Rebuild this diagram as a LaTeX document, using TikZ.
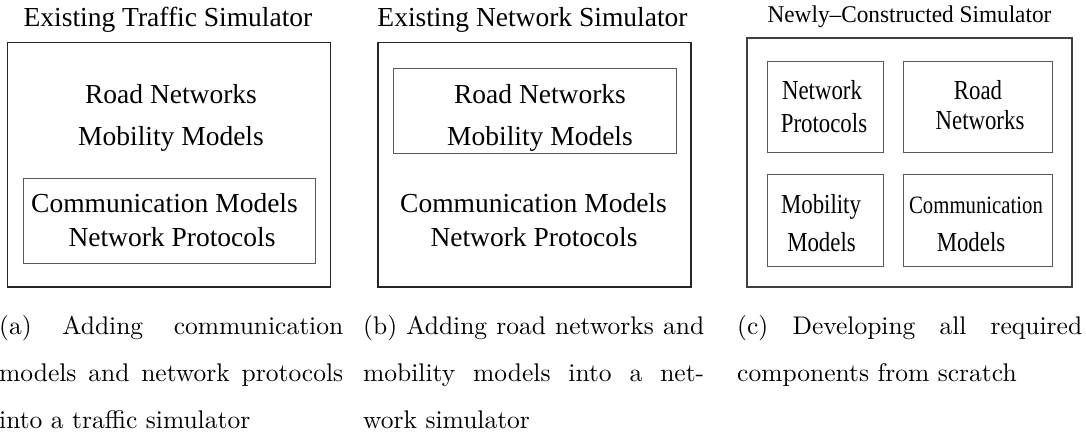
\documentclass[tikz,border=0pt]{standalone}
\usepackage{fontspec}
\newfontfamily\tms{Liberation Serif}
\newfontfamily\tmsnarrow[FakeStretch=0.83]{Liberation Serif}
\newfontfamily\tmstitle[FakeStretch=0.97]{Liberation Serif}
\newfontfamily\capfont{lmroman10-regular.otf}
\tikzset{
  outerbox/.style={draw=black!85, line width=1.2pt},
  innerbox/.style={draw=black!65, line width=1pt},
  lbl/.style={inner sep=0pt, anchor=base, font=\tms\fontsize{27.5}{30}\selectfont},
  ctitle/.style={inner sep=0pt, anchor=base, font=\tmstitle\fontsize{24}{26}\selectfont},
  nlbl/.style={inner sep=0pt, anchor=base, font=\tmsnarrow\fontsize{27.5}{30}\selectfont},
  slbl/.style={inner sep=0pt, anchor=base, font=\tmsnarrow\fontsize{25}{28}\selectfont},
  subcaption/.style={inner sep=0pt, anchor=base west, font=\capfont\fontsize{25.5}{47}\selectfont},
}
\begin{document}
\begin{tikzpicture}[x=1pt, y=-1pt]
  \useasboundingbox (0,0) rectangle (1086,439);

  % (a) traffic simulator extended with communication parts
  \node[lbl] (ta) at (168,26) {Existing Traffic Simulator};
  \draw[outerbox] (7.5,42.5) rectangle (330.5,287);
  \node[lbl] (ra) at (171,103) {Road Networks};
  \node[lbl] (ma) at (171,145) {Mobility Models};
  \draw[innerbox] (23,178) rectangle (315,263);
  \node[lbl] (ca) at (164.5,212) {Communication Models};
  \node[lbl] (pa) at (172,246) {Network Protocols};

  % (b) network simulator extended with mobility parts
  \node[lbl] (tb) at (532.5,26) {Existing Network Simulator};
  \draw[outerbox] (378,42.5) rectangle (691,287);
  \draw[innerbox] (393,68) rectangle (676,153);
  \node[lbl] (rb) at (540,103) {Road Networks};
  \node[lbl] (mb) at (540,145) {Mobility Models};
  \node[lbl] (cb) at (533.5,212) {Communication Models};
  \node[lbl] (pb) at (534,246) {Network Protocols};

  % (c) simulator built from four separate modules
  \node[ctitle] (tc) at (909.5,23) {Newly–Constructed Simulator};
  \draw[innerbox, draw=black!75, line width=1.1pt] (747,38) rectangle (1072,287);
  \draw[innerbox] (767,61) rectangle (883,152);
  \draw[innerbox] (903,61) rectangle (1052,152);
  \draw[innerbox] (767,174) rectangle (883,266);
  \draw[innerbox] (903,174) rectangle (1052,266);
  \node[nlbl] (np1) at (822,99) {Network};
  \node[nlbl] (np2) at (824,132) {Protocols};
  \node[nlbl] (rn1) at (978,99) {Road};
  \node[nlbl] (rn2) at (980,129) {Networks};
  \node[nlbl] (mm1) at (821,213) {Mobility};
  \node[nlbl] (mm2) at (821.5,251) {Models};
  \node[slbl] (cm1) at (976,213) {Communication};
  \node[nlbl] (cm2) at (971,251) {Models};

  % sub-captions
  \node[subcaption] (capa) at (-1,334) {\parbox[t]{344pt}{\hyphenpenalty=10000
    (a) Adding communication\linebreak models and network protocols\linebreak into a traffic simulator}};
  \node[subcaption] (capb) at (363,334) {\parbox[t]{341pt}{\hyphenpenalty=10000
    (b) Adding road networks and\linebreak mobility models into a net-\linebreak work simulator}};
  \node[subcaption] (capc) at (737,334) {\parbox[t]{345pt}{\hyphenpenalty=10000
    (c) Developing all required\linebreak components from scratch}};
\end{tikzpicture}
\end{document}
